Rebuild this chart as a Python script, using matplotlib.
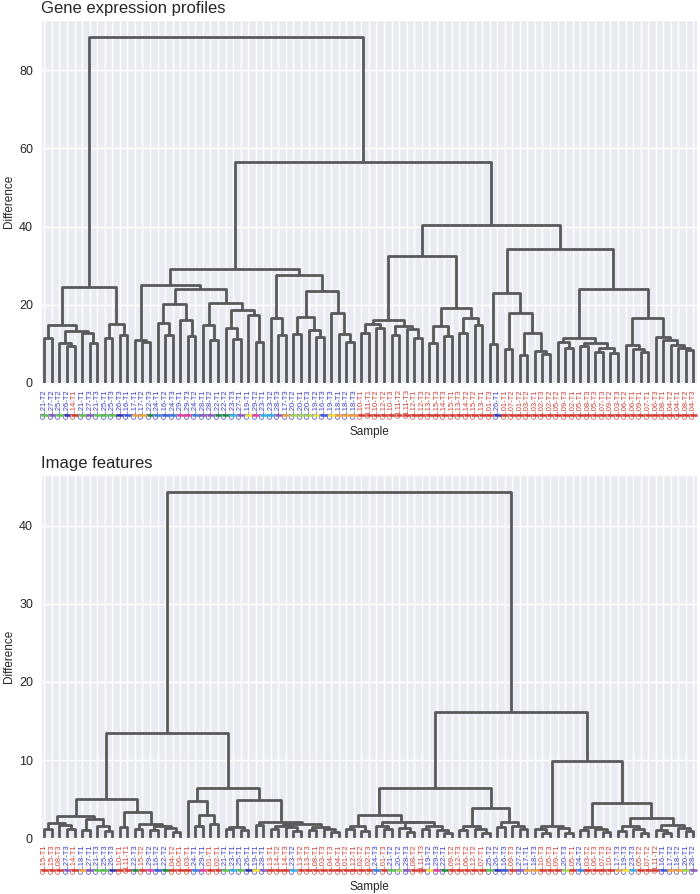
import matplotlib
matplotlib.use('Agg')
import matplotlib.pyplot as plt
import seaborn as sns

sns.set_style('darkgrid')
plt.rcParams['font.family'] = ['Liberation Sans', 'DejaVu Sans']

# leaf labels in dendrogram order
gene_labels = [
    'CL21-T2', 'CL27-T2', 'CL25-T2', 'CL26-T2', 'CL14-T1', 'CL21-T1', 'CL27-T3', 'CL21-T3',
    'CL25-T1', 'CL25-T3', 'CL26-T3', 'CL16-T1',
    'CL17-T1', 'CL17-T2', 'CL22-T3', 'CL24-T1', 'CL16-T2', 'CL24-T3', 'CL29-T1', 'CL29-T3',
    'CL24-T2', 'CL28-T1', 'CL28-T2', 'CL22-T1', 'CL22-T2', 'CL23-T3', 'CL27-T1', 'CL19-T1',
    'CL29-T2', 'CL23-T1', 'CL23-T2', 'CL28-T3', 'CL17-T3', 'CL20-T2', 'CL20-T1', 'CL20-T3',
    'CL19-T2', 'CL16-T3', 'CL19-T3', 'CL18-T1', 'CL18-T2', 'CL18-T3',
    'CL10-T1', 'CL11-T1', 'CL10-T2', 'CL12-T2', 'CL10-T3', 'CL11-T2', 'CL11-T3', 'CL12-T1',
    'CL12-T3', 'CL13-T2', 'CL15-T3', 'CL14-T3', 'CL15-T1', 'CL13-T3', 'CL14-T2', 'CL15-T2',
    'CL13-T1',
    'CL01-T3', 'CL26-T1', 'CL01-T1', 'CL07-T2', 'CL01-T2', 'CL03-T2', 'CL03-T1', 'CL02-T3',
    'CL02-T2', 'CL05-T2', 'CL09-T3', 'CL02-T1', 'CL05-T1', 'CL08-T3', 'CL05-T3', 'CL07-T3',
    'CL09-T2', 'CL03-T3', 'CL06-T2', 'CL06-T1', 'CL09-T1', 'CL07-T1', 'CL06-T3', 'CL08-T1',
    'CL04-T2', 'CL04-T1', 'CL08-T2', 'CL04-T3',
]

image_labels = [
    'CL15-T1', 'CL15-T3', 'CL08-T3', 'CL27-T3', 'CL14-T1', 'CL18-T1', 'CL27-T1', 'CL21-T3',
    'CL25-T3', 'CL26-T3', 'CL10-T1', 'CL11-T1', 'CL22-T3', 'CL15-T2', 'CL29-T2', 'CL16-T2',
    'CL22-T2', 'CL04-T2', 'CL06-T1', 'CL03-T1', 'CL24-T1', 'CL29-T1', 'CL01-T1', 'CL02-T1',
    'CL21-T1', 'CL23-T1', 'CL25-T1', 'CL26-T1', 'CL19-T1', 'CL28-T1', 'CL13-T1', 'CL14-T2',
    'CL14-T3', 'CL23-T2', 'CL13-T2', 'CL13-T3', 'CL08-T1', 'CL03-T3', 'CL04-T3', 'CL04-T1',
    'CL01-T2', 'CL12-T1', 'CL02-T2', 'CL02-T3', 'CL24-T3', 'CL01-T3', 'CL21-T2', 'CL20-T2',
    'CL28-T3', 'CL08-T2', 'CL11-T3', 'CL19-T2', 'CL29-T3', 'CL22-T1', 'CL09-T2', 'CL12-T3',
    'CL06-T2', 'CL12-T2', 'CL07-T1', 'CL25-T2', 'CL26-T2', 'CL16-T3', 'CL09-T3', 'CL27-T2',
    'CL17-T1', 'CL18-T3', 'CL10-T3', 'CL05-T3', 'CL09-T1', 'CL20-T3', 'CL05-T1', 'CL24-T2',
    'CL03-T2', 'CL06-T3', 'CL07-T3', 'CL10-T2', 'CL17-T3', 'CL19-T3', 'CL23-T3', 'CL05-T2',
    'CL07-T2', 'CL11-T2', 'CL16-T1', 'CL17-T2', 'CL18-T2', 'CL20-T1', 'CL28-T2',
]

# merge trees: [height, left, right], 0 = leaf (taken in label order)
gene_tree = [88.4,
    [24.6,
        [14.9, [11.4, 0, 0], [13.4, [10.1, 0, [9.5, 0, 0]], [12.7, 0, [10.2, 0, 0]]]],
        [15.2, [11.4, 0, 0], [12.2, 0, 0]]],
    [56.5,
        [29.1,
            [25.1,
                [10.9, 0, [10.5, 0, 0]],
                [24.0,
                    [20.2, [15.4, 0, [12.2, 0, 0]], [16.2, 0, [11.9, 0, 0]]],
                    [20.5, [14.9, 0, [11.0, 0, 0]],
                        [18.7, [14.0, 0, [11.2, 0, 0]], [17.5, 0, [10.5, 0, 0]]]]]],
            [27.6,
                [16.7, 0, [12.3, 0, 0]],
                [23.5,
                    [16.8, [12.5, 0, 0], [13.5, 0, [11.8, 0, 0]]],
                    [18.0, 0, [12.6, 0, [10.5, 0, 0]]]]]],
        [40.5,
            [32.4,
                [16.2,
                    [15.0, [12.9, 0, 0], [14.0, 0, 0]],
                    [14.7, [12.3, 0, 0], [13.9, 0, [11.5, 0, 0]]]],
                [19.3,
                    [14.5, [10.2, 0, 0], [12.0, 0, 0]],
                    [16.5, [12.8, 0, 0], [14.9, 0, 0]]]],
            [34.2,
                [23.0,
                    [9.9, 0, 0],
                    [17.8, [8.6, 0, 0], [12.9, [7.2, 0, 0], [8.3, 0, [7.5, 0, 0]]]]],
                [24.1,
                    [11.6, [10.5, 0, [9.0, 0, 0]],
                        [10.3, [9.5, 0, 0], [9.0, [8.0, 0, 0], [7.6, 0, 0]]]],
                    [16.7,
                        [9.6, 0, [8.7, 0, [7.8, 0, 0]]],
                        [11.8, 0, [11.0, 0, [9.7, 0, [9.0, 0, [8.5, 0, 0]]]]]]]]]]]

image_tree = [44.3,
    [13.4,
        [5.0,
            [2.8,
                [1.9, [1.2, 0, 0], [1.7, 0, [1.1, 0, 0]]],
                [2.4, [1.0, 0, 0], [1.6, 0, [0.9, 0, 0]]]],
            [3.3,
                [1.4, 0, 0],
                [1.8, [1.1, 0, 0], [1.5, [1.0, 0, 0], [1.3, 0, [0.8, 0, 0]]]]]],
        [6.4,
            [4.7, 0, [2.9, [1.6, 0, 0], [1.8, 0, 0]]],
            [4.9,
                [1.4, [1.2, 0, 0], [1.0, 0, 0]],
                [2.0, [1.7, 0, 0],
                    [1.8, [1.6, [1.2, 0, 0], [1.4, 0, [0.9, 0, 0]]],
                          [1.4, [1.0, 0, 0], [1.2, 0, [0.8, 0, 0]]]]]]]],
    [16.2,
        [6.4,
            [2.9,
                [1.5, [1.1, 0, 0], [0.9, 0, 0]],
                [2.1, [1.5, 0, [1.1, 0, 0]],
                    [2.0, [1.3, 0, [0.8, 0, 0]], [1.6, [1.2, 0, 0], [1.0, 0, [0.7, 0, 0]]]]]],
            [3.8,
                [1.5, [1.0, 0, 0], [1.2, 0, [0.7, 0, 0]]],
                [2.0, [1.4, 0, 0], [1.6, 0, [1.1, 0, 0]]]]],
        [9.9,
            [1.5, [1.1, 0, [0.7, 0, 0]], [1.3, 0, [0.6, 0, 0]]],
            [4.5,
                [1.4, [1.0, 0, 0], [1.2, 0, [0.8, 0, 0]]],
                [2.6, [1.5, [0.9, 0, 0], [1.1, 0, [0.7, 0, 0]]],
                      [1.7, [1.0, 0, [0.6, 0, 0]], [1.3, 0, [0.9, 0, 0]]]]]]]]

gene_ticks = [0, 20, 40, 60, 80]
image_ticks = [0, 10, 20, 30, 40]

patient_colors = {
    'CL16': '#3b5bd6', 'CL17': '#f3a23a', 'CL18': '#f3a23a', 'CL19': '#f2e02c',
    'CL20': '#a5d64f', 'CL21': '#5fc24a', 'CL22': '#1e8a3c', 'CL23': '#2fb3e6',
    'CL24': '#3b7fd6', 'CL25': '#5fc24a', 'CL26': '#3535b0', 'CL27': '#8d5cb8',
    'CL28': '#8d5cb8', 'CL29': '#e6409c',
}
RED = '#d43d33'
BLUE = '#3a3acb'


def walk(node, counter, segs):
    if node == 0:
        x = counter[0]
        counter[0] += 1
        return x, 0.0
    h, a, b = node
    xa, ha = walk(a, counter, segs)
    xb, hb = walk(b, counter, segs)
    segs.append(([xa, xa, xb, xb], [ha, h, h, hb]))
    return (xa + xb) / 2.0, h


def draw(ax, tree, labels, ticks, title):
    counter = [0]
    segs = []
    walk(tree, counter, segs)
    if counter[0] != len(labels):
        raise ValueError('leaves %d labels %d' % (counter[0], len(labels)))
    for xs, ys in segs:
        ax.plot(xs, ys, color='#595959', lw=2, solid_capstyle='butt')
    n = len(labels)
    ax.set_xlim(-0.5, n - 0.5)
    ax.set_ylim(0, tree[0] * 1.05)
    ax.set_xticks(range(n))
    ax.set_xticklabels(labels, rotation=90, fontsize=5.5)
    ax.set_yticks(ticks)
    ax.tick_params(axis='y', labelsize=9, pad=2)
    ax.tick_params(axis='x', pad=1)
    for t, lab in zip(ax.get_xticklabels(), labels):
        t.set_color(BLUE if int(lab[2:4]) >= 16 else RED)
    trans = ax.get_xaxis_transform()
    for i, lab in enumerate(labels):
        c = patient_colors.get(lab[:4], RED)
        ax.plot([i - 0.45, i + 0.45], [-0.088, -0.088], color=c, lw=1.8,
                transform=trans, clip_on=False, solid_capstyle='butt')
    ax.grid(True, axis='both', color='white', lw=1)
    ax.set_xlabel('Sample', fontsize=8.5, labelpad=5)
    ax.set_ylabel('Difference', fontsize=8.5, labelpad=3)
    ax.set_title(title, loc='left', fontsize=12, pad=5)


fig = plt.figure(figsize=(7, 8.94), dpi=100)
ax1 = fig.add_axes([0.058, 0.5716, 0.938, 0.406])
ax2 = fig.add_axes([0.058, 0.0626, 0.938, 0.406])
draw(ax1, gene_tree, gene_labels, gene_ticks, 'Gene expression profiles')
draw(ax2, image_tree, image_labels, image_ticks, 'Image features')
fig.savefig('out.png', dpi=100)
